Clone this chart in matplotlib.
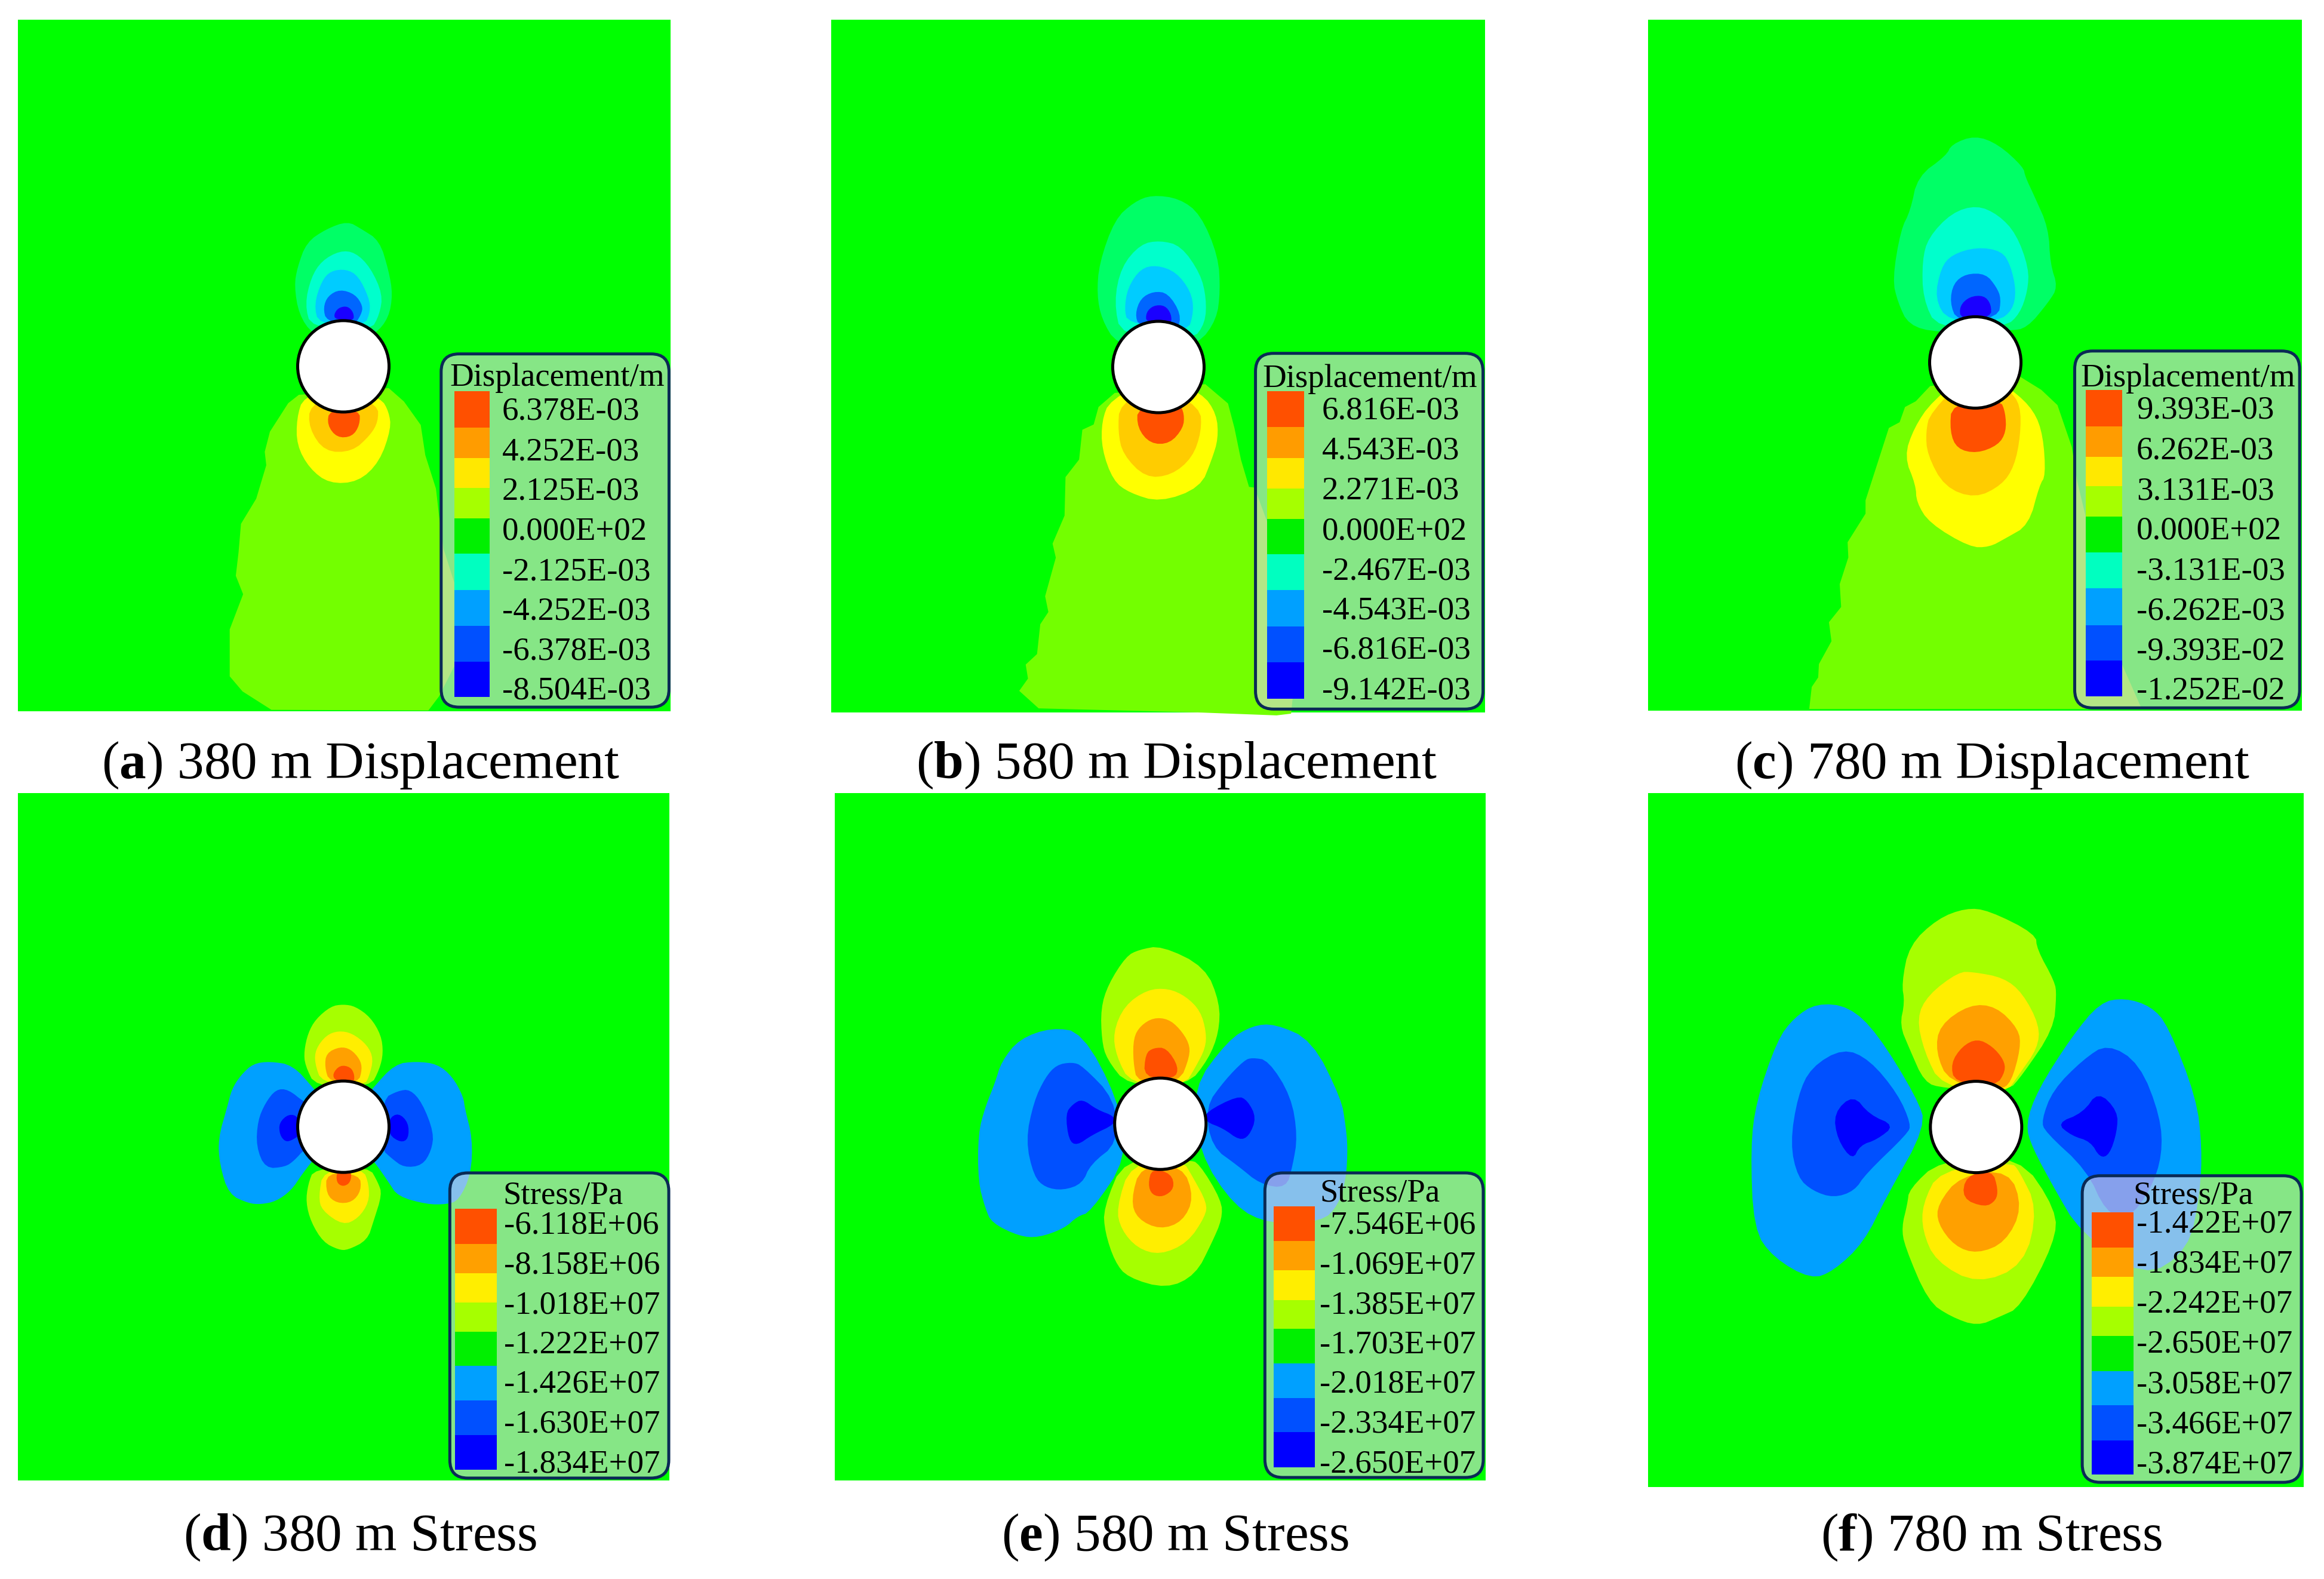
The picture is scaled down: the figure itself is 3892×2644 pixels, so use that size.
import matplotlib
matplotlib.use("Agg")
import matplotlib.pyplot as plt
from matplotlib.patches import FancyBboxPatch, Ellipse, Polygon, Rectangle

plt.rcParams['font.family'] = ['Liberation Serif', 'DejaVu Serif']
plt.rcParams['mathtext.fontset'] = 'custom'
plt.rcParams['mathtext.bf'] = 'Liberation Serif:bold'
plt.rcParams['mathtext.rm'] = 'Liberation Serif'

W, H = 3892, 2644

# ---- colours ----
BG = '#00FF00'
LIME = '#73FF00'; YGRN = '#A6FF00'; YEL = '#FFFF00'; YEL2 = '#FFEE00'
AMB = '#FFCC00'; ORG = '#FFA000'; RED = '#FF5000'
TG = '#00FF66'; TEAL = '#00FFCC'; CYAN = '#00CCFF'; MBLUE = '#0066FF'; IND = '#1A00FF'
SKY = '#00A0FF'; BLUE = '#0050FF'; DEEP = '#0000FF'
DISP_SWATCH = [RED, '#FF9C00', '#FFE800', YGRN, '#00F000', '#00FFC0', SKY, BLUE, DEEP]
STRESS_SWATCH = [RED, ORG, YEL2, YGRN, '#00F000', SKY, BLUE, DEEP]

# ---- text ----
LABELS_A = ['6.378E-03', '4.252E-03', '2.125E-03', '0.000E+02', '-2.125E-03', '-4.252E-03', '-6.378E-03', '-8.504E-03']
LABELS_B = ['6.816E-03', '4.543E-03', '2.271E-03', '0.000E+02', '-2.467E-03', '-4.543E-03', '-6.816E-03', '-9.142E-03']
LABELS_C = ['9.393E-03', '6.262E-03', '3.131E-03', '0.000E+02', '-3.131E-03', '-6.262E-03', '-9.393E-02', '-1.252E-02']
LABELS_D = ['-6.118E+06', '-8.158E+06', '-1.018E+07', '-1.222E+07', '-1.426E+07', '-1.630E+07', '-1.834E+07']
LABELS_E = ['-7.546E+06', '-1.069E+07', '-1.385E+07', '-1.703E+07', '-2.018E+07', '-2.334E+07', '-2.650E+07']
LABELS_F = ['-1.422E+07', '-1.834E+07', '-2.242E+07', '-2.650E+07', '-3.058E+07', '-3.466E+07', '-3.874E+07']
CAPTIONS = [r'($\mathbf{a}$) 380 m Displacement', r'($\mathbf{b}$) 580 m Displacement',
            r'($\mathbf{c}$) 780 m Displacement', r'($\mathbf{d}$) 380 m Stress',
            r'($\mathbf{e}$) 580 m Stress', r'($\mathbf{f}$) 780 m Stress']

# ---- contour outlines (reading-frame coordinates) ----
REGIONS_A = [
 (LIME, [(295,590),(260,615),(200,700),(183,760),(188,800),(155,900),(105,975),(97,1060),(88,1130),(112,1185),(68,1290),(68,1430),(110,1475),(205,1530),(720,1532),(755,1490),(805,1400),(805,1150),(770,1050),(755,950),(745,870),(710,770),(695,680),(640,610),(590,570)]),
 (YEL, [(310,595),(288,660),(288,740),(330,810),(395,855),(490,850),(560,790),(598,690),(590,640),(565,600),(441,560)]),
 (AMB, [(330,620),(328,690),(380,760),(470,760),(530,710),(555,670),(555,620),(441,580)]),
 (RED, [(395,635),(388,680),(420,718),(470,715),(495,680),(495,635)]),
 (TG, [(340,410),(295,350),(280,265),(290,210),(320,135),(385,95),(455,72),(500,95),(560,130),(590,220),(603,290),(590,360),(545,410),(441,450)]),
 (TEAL, [(335,390),(315,320),(335,240),(370,190),(430,160),(480,165),(530,210),(570,290),(560,350),(530,400)]),
 (CYAN, [(360,380),(345,320),(370,250),(400,220),(450,215),(490,235),(525,300),(530,340),(510,385)]),
 (MBLUE, [(385,370),(375,330),(390,295),(430,275),(480,290),(505,325),(500,350),(475,385)]),
 (IND, [(415,365),(410,350),(425,330),(455,325),(475,345),(475,370)]),
]
REGIONS_B = [
 (LIME, [(400,610),(350,650),(335,700),(300,715),(290,800),(248,850),(245,960),(208,1040),(218,1080),(185,1190),(195,1235),(170,1270),(160,1355),(125,1385),(132,1425),(105,1460),(165,1510),(670,1522),(900,1530),(945,1525),(950,1480),(880,1400),(880,1000),(832,880),(815,878),(790,800),(770,710),(750,640),(680,585)]),
 (YEL, [(385,630),(360,690),(360,770),(395,860),(445,895),(540,922),(665,880),(700,800),(720,740),(715,670),(670,610),(535,560)]),
 (AMB, [(415,640),(410,720),(425,785),(495,852),(575,845),(640,795),(668,720),(665,650),(535,590)]),
 (RED, [(470,650),(470,710),(510,755),(570,755),(612,710),(615,670),(600,640)]),
 (TG, [(405,470),(360,400),(345,330),(352,240),(400,115),(460,65),(515,45),(600,55),(665,100),(720,220),(726,320),(715,400),(660,470),(535,500)]),
 (TEAL, [(420,450),(398,350),(420,250),(480,185),(540,175),(605,190),(665,270),(683,340),(680,410),(640,460)]),
 (CYAN, [(440,410),(430,370),(440,310),(480,255),(530,245),(590,265),(635,320),(645,375),(625,440)]),
 (MBLUE, [(475,420),(463,385),(480,340),(520,320),(565,325),(605,385),(595,430)]),
 (IND, [(497,410),(497,380),(520,360),(555,360),(575,385),(575,415)]),
]
REGIONS_C = [
 (LIME, [(470,700),(430,740),(400,755),(385,795),(355,810),(290,1000),(290,1035),(240,1110),(242,1150),(218,1220),(222,1280),(188,1320),(195,1370),(160,1430),(158,1465),(140,1490),(133,1548),(1060,1548),(1000,1420),(880,950),(865,860),(825,750),(780,710),(720,675)]),
 (YEL, [(475,740),(425,810),(398,885),(430,960),(432,1005),(468,1060),(580,1123),(635,1123),(680,1100),(745,1065),(775,960),(792,935),(785,830),(760,765),(700,710),(596,650)]),
 (AMB, [(470,770),(458,820),(462,880),(510,965),(595,995),(670,960),(705,910),(722,830),(722,750),(690,710),(596,650)]),
 (RED, [(530,745),(525,820),(545,865),(600,877),(660,855),(682,820),(680,770),(665,735)]),
 (TG, [(490,560),(410,540),(380,480),(365,420),(388,290),(415,240),(435,150),(515,95),(530,65),(595,42),(660,65),(730,125),(735,150),(760,200),(800,285),(805,380),(826,440),(800,480),(740,548),(690,555)]),
 (TEAL, [(490,550),(450,470),(448,370),(465,310),(530,245),(600,225),(660,250),(710,300),(745,390),(742,450),(720,510),(680,545)]),
 (CYAN, [(520,530),(483,470),(500,390),(530,355),(600,335),(670,345),(695,385),(710,450),(700,500),(660,530)]),
 (MBLUE, [(545,530),(525,480),(535,430),(570,405),(625,405),(655,440),(668,470),(660,520)]),
 (IND, [(555,525),(552,490),(580,465),(620,462),(640,485),(640,520)]),
]
REGIONS_D = [
 (YGRN, [(350,510),(315,400),(312,330),(325,240),(350,170),(400,105),(440,95),(480,105),(530,160),(565,250),(572,340),(560,420),(530,510)]),
 (YEL2, [(370,490),(347,390),(350,320),(385,250),(425,228),(470,240),(520,300),(540,370),(525,460),(510,500)]),
 (ORG, [(395,485),(380,410),(385,340),(430,308),(465,320),(495,370),(503,420),(490,490)]),
 (RED, [(415,480),(405,445),(430,400),(465,410),(478,450),(475,490)]),
 (YGRN, [(345,920),(325,1000),(318,1090),(335,1190),(375,1290),(425,1328),(455,1330),(520,1280),(540,1185),(568,1050),(555,990),(525,910)]),
 (YEL2, [(375,930),(360,1060),(370,1130),(440,1205),(490,1170),(525,1090),(525,1000),(505,920)]),
 (ORG, [(385,940),(385,1050),(420,1095),(470,1090),(500,1030),(495,950)]),
 (RED, [(420,930),(418,990),(440,1012),(465,990),(468,930)]),
 (SKY, [(345,520),(275,400),(200,382),(145,393),(105,450),(75,520),(60,610),(30,770),(35,900),(65,1050),(130,1095),(170,1100),(220,1085),(270,1030),(305,950),(340,880),(441,700)]),
 (BLUE, [(315,590),(260,522),(220,522),(185,590),(160,680),(155,810),(185,920),(250,912),(280,880),(315,820),(441,700)]),
 (DEEP, [(295,660),(262,645),(230,690),(232,750),(250,785),(270,780),(300,750)]),
 (SKY, [(535,520),(610,395),(680,382),(750,395),(800,460),(835,560),(840,620),(865,770),(860,950),(820,1080),(780,1100),(715,1100),(620,1060),(590,990),(545,890),(441,700)]),
 (BLUE, [(570,570),(620,530),(660,522),(700,590),(738,740),(730,830),(700,905),(640,915),(600,870),(565,820)]),
 (DEEP, [(590,670),(622,640),(655,690),(655,770),(630,790),(590,750)]),
]
REGIONS_E = [
 (YGRN, [(440,600),(375,500),(360,430),(357,310),(380,220),(435,115),(475,90),(545,75),(680,155),(725,290),(722,400),(690,500),(625,600)]),
 (YEL2, [(450,595),(405,490),(395,400),(430,300),(500,240),(565,235),(620,265),(665,320),(683,400),(680,460),(650,530),(615,600)]),
 (ORG, [(470,590),(457,510),(458,420),(480,375),(520,345),(565,350),(600,385),(630,440),(632,490),(600,590)]),
 (RED, [(490,570),(495,480),(520,458),(560,458),(598,530),(585,575)]),
 (YGRN, [(430,870),(365,1060),(370,1150),(400,1260),(440,1320),(560,1362),(650,1310),(700,1190),(732,1100),(730,1030),(660,890),(630,880)]),
 (YEL2, [(450,890),(405,1060),(420,1140),(470,1210),(540,1235),(625,1190),(680,1090),(685,1040),(640,940),(610,880)]),
 (ORG, [(480,900),(450,1030),(470,1100),(540,1140),(610,1110),(645,1020),(610,900)]),
 (RED, [(515,910),(503,970),(515,1010),(550,1018),(585,985),(575,930)]),
 (SKY, [(410,650),(300,400),(205,382),(105,425),(50,510),(30,590),(0,680),(-22,780),(-22,960),(0,1060),(20,1115),(105,1165),(165,1170),(245,1135),(285,1090),(325,1075),(440,870)]),
 (BLUE, [(400,650),(300,525),(268,512),(220,522),(185,570),(150,660),(125,805),(150,940),(185,982),(240,993),(300,968),(325,895),(410,815)]),
 (DEEP, [(400,715),(345,690),(300,650),(270,670),(248,705),(258,805),(283,825),(330,785),(400,745)]),
 (SKY, [(640,610),(750,430),(825,375),(895,368),(1010,430),(1100,650),(1113,745),(1120,830),(1115,950),(1090,1050),(1040,1110),(880,1120),(770,1055),(660,850)]),
 (BLUE, [(680,680),(740,580),(800,505),(825,495),(875,505),(945,640),(965,790),(950,900),(930,985),(850,970),(780,900),(700,830)]),
 (DEEP, [(680,700),(780,638),(810,655),(838,720),(815,790),(785,805),(735,760),(680,735)]),
]
REGIONS_F = [
 (YGRN, [(560,505),(510,490),(470,400),(445,340),(458,280),(450,230),(470,130),(545,60),(620,32),(680,38),(805,100),(808,140),(855,225),(860,260),(852,350),(770,470),(730,515)]),
 (YEL2, [(555,500),(510,410),(490,320),(520,260),(600,200),(640,200),(720,215),(770,255),(815,340),(810,400),(760,470),(725,520)]),
 (ORG, [(575,490),(540,410),(550,340),(630,285),(700,290),(760,350),(765,400),(740,490),(710,510)]),
 (RED, [(590,490),(580,440),(610,395),(650,375),(690,395),(720,430),(725,460),(700,500)]),
 (YGRN, [(550,695),(470,770),(465,810),(450,870),(458,920),(520,1065),(580,1105),(650,1130),(710,1105),(765,1080),(855,910),(860,825),(760,680)]),
 (YEL2, [(550,720),(505,810),(505,880),(540,960),(650,1020),(775,970),(810,820),(760,720),(740,700)]),
 (ORG, [(605,735),(545,810),(545,860),(590,920),(650,940),(725,910),(770,820),(735,720)]),
 (RED, [(620,735),(610,795),(670,818),(700,800),(705,770),(690,720)]),
 (SKY, [(515,605),(490,530),(385,360),(310,290),(225,282),(165,320),(120,380),(65,540),(50,660),(58,875),(110,950),(210,1007),(270,985),(350,910),(410,790)]),
 (BLUE, [(475,600),(440,520),(365,430),(295,400),(210,450),(175,525),(155,650),(175,740),(215,775),(270,793),(325,775),(355,730),(465,625)]),
 (DEEP, [(432,603),(365,575),(322,522),(270,570),(280,640),(320,695),(340,655),(385,640)]),
 (SKY, [(778,600),(810,510),(900,370),(975,280),(1040,268),(1110,290),(1155,340),(1230,530),(1245,660),(1240,780),(1210,930),(1090,1005),(920,880),(855,770),(795,660)]),
 (BLUE, [(820,590),(850,510),(930,430),(995,388),(1080,440),(1135,580),(1140,680),(1110,770),(1050,850),(990,830),(940,720),(830,620)]),
 (DEEP, [(860,597),(930,570),(970,513),(1022,565),(1020,620),(1000,680),(975,688),(950,645),(900,630)]),
]

# ---- layout per panel ----
PANELS = [
 dict(rect=(30,33,1123,1191), frame=(350,330,1.96,1.782), regions=REGIONS_A, circle=(441,505),
      title='Displacement/m', labels=LABELS_A, swatch=DISP_SWATCH,
      box=(762,468,1510,1522), sw_x=(805,922), bounds=[580,688,778,868,958,1063,1172,1279,1386,1492],
      lab_x=962, lab_y=[630,750,868,988,1108,1226,1346,1463], title_xy=(1143,530), cap=(604,1303)),
 dict(rect=(1392,33,2487,1193), frame=(1650,300,1.845,1.704), regions=REGIONS_B, circle=(535,536),
      title='Displacement/m', labels=LABELS_B, swatch=DISP_SWATCH,
      box=(835,497,1538,1512), sw_x=(871,985), bounds=[605,708,796,883,970,1070,1173,1277,1378,1482],
      lab_x=1040, lab_y=[652,765,880,995,1110,1222,1335,1450], title_xy=(1188,562), cap=(1970,1303)),
 dict(rect=(2760,33,3855,1190), frame=(2950,200,1.6645,1.568), regions=REGIONS_C, circle=(596,638),
      title='Displacement/m', labels=LABELS_C, swatch=DISP_SWATCH,
      box=(873,608,1500,1545), sw_x=(904,1005), bounds=[710,806,886,963,1043,1137,1231,1328,1421,1515],
      lab_x=1045, lab_y=[755,862,968,1072,1178,1283,1388,1492], title_xy=(1188,672), cap=(3336,1303)),
 dict(rect=(30,1328,1121,2479), frame=(350,1650,1.96,3.0), regions=REGIONS_D, circle=(441,710),
      title='Stress/Pa', labels=LABELS_D, swatch=STRESS_SWATCH, cap=(603,2596),
      legend_frame=(730,1950,3.0,3.0), box=(70,42,1170,1575), sw_x=(96,305),
      bounds=[222,399,546,693,840,1012,1186,1358,1533], lab_x=343,
      lab_y=[290,490,690,888,1088,1288,1488], title_xy=(640,142)),
 dict(rect=(1398,1328,2488,2479), frame=(1650,1550,1.845,2.24), regions=REGIONS_E, circle=(541,743),
      title='Stress/Pa', labels=LABELS_E, swatch=STRESS_SWATCH, cap=(1968,2596),
      legend_frame=(2100,1950,3.0,3.0), box=(55,42,1152,1572), sw_x=(99,305),
      bounds=[210,384,530,681,825,999,1172,1343,1520], lab_x=330,
      lab_y=[290,490,690,888,1088,1288,1488], title_xy=(632,132)),
 dict(rect=(2760,1328,3858,2490), frame=(2900,1500,1.5806,1.568), regions=REGIONS_F, circle=(647,607),
      title='Stress/Pa', labels=LABELS_F, swatch=STRESS_SWATCH,
      box=(928,735,1508,1540), sw_x=(953,1063), bounds=[831,923,1000,1079,1156,1248,1338,1430,1520],
      lab_x=1072, lab_y=[853,958,1063,1168,1275,1380,1485], title_xy=(1222,780), cap=(3335,2596)),
]
CIRCLE_R = 76.5
LEGEND_PT = 39.5
CAPTION_PT = 64.4
TITLE_SHIFT = 5


def soften(pts, passes=2):
    """Round the corners of a read outline, as the contour bands are rounded."""
    for _ in range(passes):
        out = []
        for i, (a, b) in enumerate(pts):
            c, d = pts[(i + 1) % len(pts)]
            out.append((0.75*a + 0.25*c, 0.75*b + 0.25*d))
            out.append((0.25*a + 0.75*c, 0.25*b + 0.75*d))
        pts = out
    return pts


fig = plt.figure(figsize=(W/100, H/100), dpi=100, facecolor='white')

for p in PANELS:
    x0, y0, x1, y1 = p['rect']
    ax = fig.add_axes([x0/W, 1-y1/H, (x1-x0)/W, (y1-y0)/H])
    ax.set_xlim(x0, x1); ax.set_ylim(y1, y0)
    ax.set_facecolor(BG)
    ax.set_xticks([]); ax.set_yticks([])
    for s in ax.spines.values():
        s.set_visible(False)
    fx, fy, sx, sy = p['frame']
    conv = lambda a, b, f=(fx, fy, sx, sy): (f[0]+a/f[2], f[1]+b/f[3])
    for i, (col, pts) in enumerate(p['regions']):
        shape = pts if col == LIME else soften(pts)
        ax.add_patch(Polygon([conv(a, b) for a, b in shape], closed=True, facecolor=col,
                             edgecolor='none', clip_on=False, zorder=2+i*0.01))
    cx, cy = conv(*p['circle'])
    ax.add_patch(Ellipse((cx, cy), 2*CIRCLE_R, 2*CIRCLE_R, facecolor='white', edgecolor='black',
                         lw=3.6, zorder=3))
    # legend
    lf = p.get('legend_frame', p['frame'])
    lb = p['box']; lsx = p['sw_x']; lbd = p['bounds']
    lxp = p['lab_x']; lyp = p['lab_y']; tp = p['title_xy']
    lc = lambda a, b, f=lf: (f[0]+a/f[2], f[1]+b/f[3])
    bx0, by0 = lc(lb[0], lb[1]); bx1, by1 = lc(lb[2], lb[3])
    ax.add_patch(FancyBboxPatch((bx0, by0), bx1-bx0, by1-by0,
                                boxstyle='round,pad=0,rounding_size=30',
                                facecolor=(0.88, 0.84, 0.88, 0.6), edgecolor='#0A2A55',
                                lw=3.6, clip_on=False, zorder=4))
    sw0, _ = lc(lsx[0], 0); sw1, _ = lc(lsx[1], 0)
    for k, col in enumerate(p['swatch']):
        _, t = lc(0, lbd[k]); _, b = lc(0, lbd[k+1])
        ax.add_patch(Rectangle((sw0, t), sw1-sw0, b-t, facecolor=col, edgecolor='none',
                               clip_on=False, zorder=5))
    tx, ty = lc(*tp)
    ax.text(tx, ty + TITLE_SHIFT, p['title'], ha='center', va='center', fontsize=LEGEND_PT,
            color='black', clip_on=False, zorder=6)
    for lab, yy in zip(p['labels'], lyp):
        lx, ly = lc(lxp, yy)
        ax.text(lx, ly, lab, ha='left', va='center_baseline', fontsize=LEGEND_PT,
                color='black', clip_on=False, zorder=6)

for p, cap in zip(PANELS, CAPTIONS):
    cxp, cyp = p['cap']
    fig.text(cxp/W, 1-cyp/H, cap, ha='center', va='baseline', fontsize=CAPTION_PT, color='black')

fig.savefig('out.png', dpi=100, facecolor='white')
